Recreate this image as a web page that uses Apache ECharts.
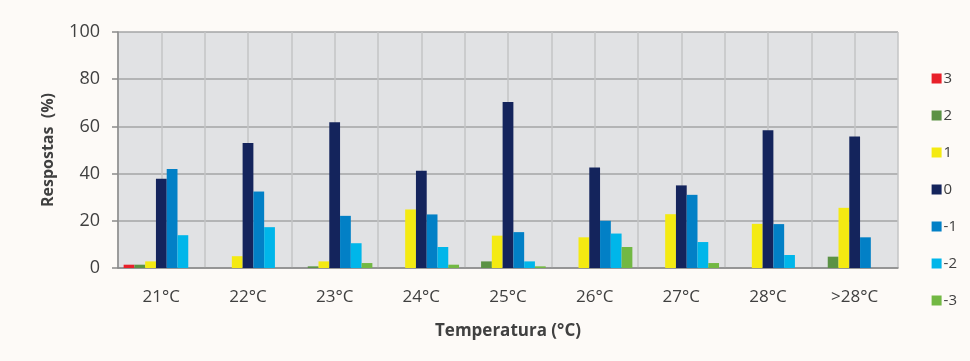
<!DOCTYPE html>
<html>
<head>
<meta charset="utf-8">
<script src="https://cdn.jsdelivr.net/npm/echarts@6/dist/echarts.min.js"></script>
<style>
  html, body { margin: 0; padding: 0; background: #fdfaf7; }
  #chart { width: 970px; height: 361px; }
</style>
</head>
<body>
<div id="chart"></div>
<script>
// Temperature classes on the x axis
const categories = ['21°C', '22°C', '23°C', '24°C', '25°C', '26°C', '27°C', '28°C', '>28°C'];

// Thermal sensation vote (scale 3 .. -3), share of responses in %
const vote3  = [1.4, 0, 0, 0, 0, 0, 0, 0, 0];
const vote2  = [1.4, 0, 0.7, 0, 2.8, 0, 0, 0, 4.8];
const vote1  = [2.8, 5.0, 2.8, 24.8, 13.7, 13.0, 22.8, 18.7, 25.5];
const vote0  = [37.8, 53.0, 61.8, 41.2, 70.3, 42.6, 35.0, 58.4, 55.7];
const voteM1 = [41.9, 32.4, 22.1, 22.7, 15.2, 20.0, 31.0, 18.6, 13.0];
const voteM2 = [13.9, 17.3, 10.5, 8.9, 2.8, 14.6, 11.0, 5.5, 0];
const voteM3 = [0, 0, 2.1, 1.4, 0.7, 8.9, 2.1, 0, 0];

const seriesNames = ['3', '2', '1', '0', '-1', '-2', '-3'];
const seriesData = [vote3, vote2, vote1, vote0, voteM1, voteM2, voteM3];
const seriesColors = ['#e8202a', '#5b9245', '#f4ea12', '#14245c', '#0280c6', '#00b6ea', '#72b843'];

// y axis ticks
const yMin = 0, yMax = 100, yStep = 20;

const FONT = 'Open Sans';

const chart = echarts.init(document.getElementById('chart'), null, { renderer: 'canvas' });

const option = {
  backgroundColor: '#fdfaf7',
  animation: false,
  textStyle: { fontFamily: FONT },
  grid: {
    left: 118, right: 72, top: 32, bottom: 93,
    show: true, backgroundColor: '#e1e2e4', borderWidth: 0
  },
  legend: {
    orient: 'vertical',
    right: 8,
    top: 66,
    itemWidth: 10,
    itemHeight: 10,
    itemGap: 22,
    icon: 'rect',
    textStyle: { fontFamily: FONT, fontSize: 15, color: '#404040', padding: [0, 0, 0, -3] },
    data: seriesNames
  },
  xAxis: [
    {
      type: 'category',
      data: categories,
      axisLine: { show: true, lineStyle: { color: '#8a8a8a', width: 1.5 } },
      axisTick: { show: false },
      axisLabel: { fontFamily: FONT, fontSize: 17, color: '#404040', margin: 21 },
      splitLine: { show: false },
      name: 'Temperatura (°C)',
      nameLocation: 'middle',
      nameGap: 55,
      nameTextStyle: { fontFamily: FONT, fontSize: 17, fontWeight: 'bold', color: '#404040' }
    },
    {
      // half-category vertical gridlines
      type: 'value',
      min: 0, max: categories.length * 2, interval: 1,
      position: 'bottom',
      axisLine: { show: false },
      axisTick: { show: false },
      axisLabel: { show: false },
      splitLine: { show: true, lineStyle: { color: '#c3c4c6', width: 1.5 } },
      z: 0
    }
  ],
  yAxis: {
    type: 'value',
    min: yMin, max: yMax, interval: yStep,
    axisLine: { show: true, lineStyle: { color: '#8a8a8a', width: 1.5 } },
    axisTick: { show: true, length: 6, lineStyle: { color: '#8a8a8a', width: 1.5 } },
    axisLabel: { fontFamily: FONT, fontSize: 18, color: '#404040', margin: 18 },
    splitLine: { show: true, lineStyle: { color: '#a3a4a6', width: 1.5 } },
    name: 'Respostas  (%)',
    nameLocation: 'middle',
    nameGap: 62,
    nameRotate: 90,
    nameTextStyle: { fontFamily: FONT, fontSize: 16, fontWeight: 'bold', color: '#404040' }
  },
  series: seriesNames.map((name, i) => ({
    name: name,
    type: 'bar',
    xAxisIndex: 0,
    data: seriesData[i],
    barGap: '0%',
    barCategoryGap: '13%',
    itemStyle: { color: seriesColors[i] },
    z: 3
  }))
};

chart.setOption(option);
</script>
</body>
</html>
